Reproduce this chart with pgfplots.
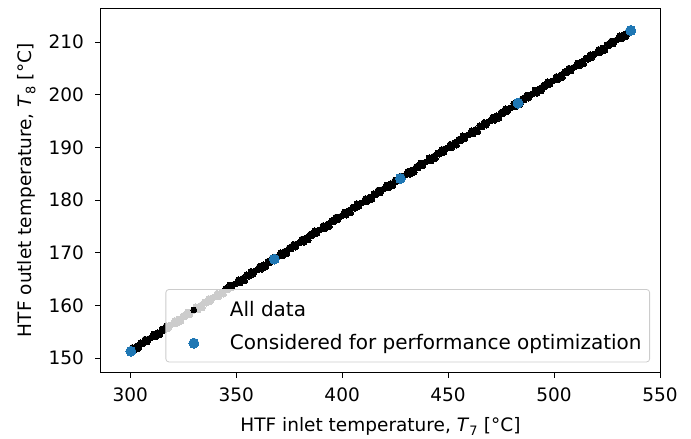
\documentclass[border=0pt]{standalone}
\usepackage{fontspec}
\setmainfont{DejaVu Sans}
\usepackage{pgfplots}
\pgfplotsset{compat=1.18}
\definecolor{mplblue}{HTML}{1F77B4}
\definecolor{legedge}{HTML}{CCCCCC}
\begin{document}
\begin{tikzpicture}
\begin{axis}[
  scale only axis,
  width=559pt, height=364pt,
  xmin=286.2, xmax=550, ymin=147.3, ymax=216.4,
  xtick={300,350,400,450,500,550},
  ytick={150,160,170,180,190,200,210},
  tick pos=left,
  tick align=outside,
  major tick length=5.5pt,
  every tick/.style={black, line width=1pt},
  axis line style={line width=1pt},
  tick label style={font=\fontsize{18.5}{22}\selectfont},
  xticklabel style={yshift=-6.7pt},
  yticklabel style={xshift=-8pt},
  /pgf/number format/assume math mode=true,
  /pgf/number format/1000 sep={},
  xlabel={HTF inlet temperature, \textit{T}\textsubscript{7} [°C]},
  ylabel={HTF outlet temperature, \textit{T}\textsubscript{8} [°C]},
  label style={font=\fontsize{18.5}{22}\selectfont},
  xlabel style={at={(axis description cs:0.5,0)}, anchor=center, yshift=-54.4pt},
  ylabel style={at={(axis description cs:0,0.5)}, anchor=center, rotate=0, yshift=74.3pt},
  legend cell align=left,
  legend style={at={(1,0)}, anchor=south east, xshift=-10pt, yshift=10pt,
    draw=legedge, line width=0.8pt, rounded corners=3pt, fill=white, fill opacity=0.8, text opacity=1,
    font=\fontsize{20}{24}\selectfont, inner xsep=8pt, inner ysep=8pt,
    row sep=10pt, column sep=16pt,
    nodes={inner sep=0pt, text height=18.5pt, text depth=4.7pt, anchor=base west}},
  legend image code/.code={%
    \path[draw=none, fill=none] (0pt,0pt) rectangle (40pt,12pt);
    \draw[#1, fill opacity=1, draw opacity=1, mark repeat=2, mark phase=2] plot coordinates {(0pt,6pt) (20pt,6pt) (40pt,6pt)};},
]
\addplot[only marks, mark=*, mark size=2.9pt, black, mark options={draw=black, fill=black, line width=0pt, fill opacity=1, draw opacity=1}] coordinates {
(300,151.30) (301,152.01) (302,151.41) (303,152.27) (304,151.83) (305,152.94) (306,152.69) (307,153.60) (308,153.06) (309,153.71)
(310,153.87) (311,154.58) (312,153.99) (313,154.84) (314,154.40) (315,155.51) (316,155.27) (317,156.17) (318,155.63) (319,156.29)
(320,156.44) (321,157.15) (322,156.56) (323,157.42) (324,156.97) (325,158.08) (326,157.84) (327,158.74) (328,158.20) (329,158.86)
(330,159.02) (331,159.72) (332,159.13) (333,159.99) (334,159.54) (335,160.65) (336,160.41) (337,161.32) (338,160.77) (339,161.43)
(340,161.59) (341,162.30) (342,161.70) (343,162.56) (344,162.12) (345,163.22) (346,162.98) (347,163.89) (348,163.35) (349,164.00)
(350,164.16) (351,164.87) (352,164.27) (353,165.13) (354,164.69) (355,165.80) (356,165.55) (357,166.46) (358,165.92) (359,166.57)
(360,166.73) (361,167.44) (362,166.85) (363,167.70) (364,167.26) (365,168.37) (366,168.13) (367,169.03) (368,168.49) (369,169.15)
(370,169.30) (371,170.01) (372,169.42) (373,170.28) (374,169.83) (375,170.94) (376,170.70) (377,171.60) (378,171.06) (379,171.72)
(380,171.88) (381,172.58) (382,171.99) (383,172.85) (384,172.40) (385,173.51) (386,173.27) (387,174.18) (388,173.63) (389,174.29)
(390,174.45) (391,175.16) (392,174.56) (393,175.42) (394,174.98) (395,176.08) (396,175.84) (397,176.75) (398,176.21) (399,176.86)
(400,177.02) (401,177.73) (402,177.13) (403,177.99) (404,177.55) (405,178.66) (406,178.41) (407,179.32) (408,178.78) (409,179.43)
(410,179.59) (411,180.30) (412,179.71) (413,180.56) (414,180.12) (415,181.23) (416,180.99) (417,181.89) (418,181.35) (419,182.01)
(420,182.16) (421,182.87) (422,182.28) (423,183.14) (424,182.69) (425,183.80) (426,183.56) (427,184.46) (428,183.92) (429,184.58)
(430,184.74) (431,185.44) (432,184.85) (433,185.71) (434,185.26) (435,186.37) (436,186.13) (437,187.04) (438,186.49) (439,187.15)
(440,187.31) (441,188.02) (442,187.42) (443,188.28) (444,187.84) (445,188.94) (446,188.70) (447,189.61) (448,189.07) (449,189.72)
(450,189.88) (451,190.59) (452,189.99) (453,190.85) (454,190.41) (455,191.52) (456,191.27) (457,192.18) (458,191.64) (459,192.29)
(460,192.45) (461,193.16) (462,192.57) (463,193.42) (464,192.98) (465,194.09) (466,193.85) (467,194.75) (468,194.21) (469,194.87)
(470,195.02) (471,195.73) (472,195.14) (473,196.00) (474,195.55) (475,196.66) (476,196.42) (477,197.32) (478,196.78) (479,197.44)
(480,197.60) (481,198.30) (482,197.71) (483,198.57) (484,198.12) (485,199.23) (486,198.99) (487,199.90) (488,199.35) (489,200.01)
(490,200.17) (491,200.88) (492,200.28) (493,201.14) (494,200.70) (495,201.80) (496,201.56) (497,202.47) (498,201.93) (499,202.58)
(500,202.74) (501,203.45) (502,202.85) (503,203.71) (504,203.27) (505,204.38) (506,204.13) (507,205.04) (508,204.50) (509,205.15)
(510,205.31) (511,206.02) (512,205.43) (513,206.28) (514,205.84) (515,206.95) (516,206.71) (517,207.61) (518,207.07) (519,207.73)
(520,207.88) (521,208.59) (522,208.00) (523,208.86) (524,208.41) (525,209.52) (526,209.28) (527,210.18) (528,209.64) (529,210.30)
(530,210.46) (531,211.16) (532,210.57) (533,211.43) (534,210.98) (535,212.09) (536,211.85)
};
\addlegendentry{All data}
\addplot[only marks, mark=*, mark size=5pt, mplblue, mark options={draw=mplblue, fill=mplblue, line width=0pt, fill opacity=1, draw opacity=1}] coordinates {
(300.3,151.3) (368,168.8) (427.5,184.1) (483,198.4) (536.2,212.2)
};
\addlegendentry{Considered for performance optimization}
\end{axis}
\path ([shift={(-101pt,-66.7pt)}]current axis.south west) rectangle ([shift={(31pt,8.3pt)}]current axis.north east);
\end{tikzpicture}
\end{document}
